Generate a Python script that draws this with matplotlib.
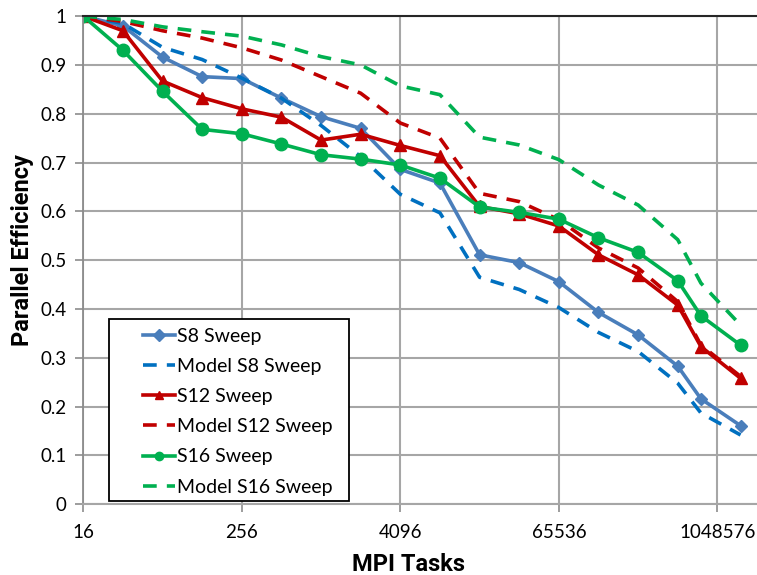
import matplotlib
matplotlib.use("Agg")
from matplotlib import pyplot as plt
from matplotlib.patches import Rectangle
from matplotlib.ticker import FixedLocator, NullLocator

plt.rcParams['font.family'] = ['Lato', 'DejaVu Sans']

# MPI task counts (x positions) and efficiencies
tasks = [16, 32, 64, 128, 256, 512, 1024, 2048, 4096, 8192, 16384, 32768,
         65536, 131072, 262144, 524288, 786432, 1572864]

s8 = [1.0, 0.980, 0.916, 0.876, 0.872, 0.832, 0.794, 0.770, 0.686, 0.658,
      0.511, 0.495, 0.456, 0.393, 0.347, 0.283, 0.216, 0.161]
model_s8 = [1.0, 0.985, 0.936, 0.911, 0.873, 0.832, 0.776, 0.712, 0.635, 0.597,
            0.465, 0.440, 0.403, 0.352, 0.313, 0.248, 0.187, 0.142]
s12 = [1.0, 0.970, 0.867, 0.833, 0.810, 0.793, 0.746, 0.758, 0.735, 0.714,
       0.610, 0.595, 0.570, 0.511, 0.470, 0.408, 0.323, 0.258]
model_s12 = [1.0, 0.989, 0.970, 0.955, 0.935, 0.910, 0.876, 0.842, 0.781, 0.750,
             0.637, 0.620, 0.583, 0.525, 0.484, 0.415, 0.326, 0.262]
s16 = [1.0, 0.930, 0.846, 0.768, 0.759, 0.738, 0.716, 0.707, 0.695, 0.668,
       0.609, 0.598, 0.584, 0.546, 0.516, 0.458, 0.386, 0.326]
model_s16 = [1.0, 0.993, 0.978, 0.968, 0.959, 0.941, 0.917, 0.900, 0.857, 0.839,
             0.752, 0.736, 0.706, 0.654, 0.613, 0.542, 0.453, 0.367]

xticks = [16, 256, 4096, 65536, 1048576]
yticks = [0, 0.1, 0.2, 0.3, 0.4, 0.5, 0.6, 0.7, 0.8, 0.9, 1]

fig = plt.figure(figsize=(7.57, 5.75), dpi=100)
ax = fig.add_axes([0.110, 0.123, 0.890, 0.849])

lw = 2.6
dash = (3.8, 2.8)
ax.plot(tasks, s8, color='#4a7ebb', lw=lw, marker='D', ms=6, label='S8 Sweep')
ax.plot(tasks, model_s8, color='#0070c0', lw=lw, ls=(0, dash), label='Model S8 Sweep')
ax.plot(tasks, s12, color='#c00000', lw=lw, marker='^', ms=9, label='S12 Sweep')
ax.plot(tasks, model_s12, color='#c00000', lw=lw, ls=(0, dash), label='Model S12 Sweep')
ax.plot(tasks, s16, color='#00b050', lw=lw, marker='o', ms=9, label='S16 Sweep')
ax.plot(tasks, model_s16, color='#00b050', lw=lw, ls=(0, dash), label='Model S16 Sweep')

ax.set_xscale('log', base=2)
ax.set_xlim(16, 2 ** 21)
ax.set_ylim(0, 1)
ax.xaxis.set_major_locator(FixedLocator(xticks))
ax.xaxis.set_minor_locator(NullLocator())
ax.set_xticklabels([str(t) for t in xticks])
ax.set_yticks(yticks)
ax.set_yticklabels(['0'] + ['%.1f' % v for v in yticks[1:-1]] + ['1'])

ax.grid(True, color='#a6a6a6', lw=1.5)
ax.set_axisbelow(True)
ax.spines['right'].set_visible(False)
ax.spines['top'].set_color('#262626')
ax.spines['top'].set_linewidth(1.5)
ax.spines['left'].set_color('#8c8c8c')
ax.spines['bottom'].set_color('#a6a6a6')
ax.spines['left'].set_linewidth(1.3)
ax.spines['bottom'].set_linewidth(1.5)
ax.tick_params(axis='both', labelsize=13.5, color='#8c8c8c', length=6, width=1.2)
ax.tick_params(axis='x', pad=8)
ax.tick_params(axis='y', pad=6)

ax.set_xlabel('MPI Tasks', fontsize=17, fontweight='bold', family='Roboto')
ax.set_ylabel('Parallel Efficiency', fontsize=17, fontweight='bold', family='Roboto')
ax.xaxis.set_label_coords(0.483, -0.099)
ax.yaxis.set_label_coords(-0.073, 0.521)

# legend box drawn separately so it keeps the wide Excel-like frame
box = Rectangle((0.0381, 0.0068), 0.3557, 0.3729, transform=ax.transAxes,
                facecolor='white', edgecolor='black', lw=1.3, zorder=4.5,
                clip_on=False)
ax.add_patch(box)
leg = ax.legend(loc='upper left', bbox_to_anchor=(0.0885, 0.362), fontsize=14,
                frameon=False, handlelength=1.65, handletextpad=0.12,
                labelspacing=0.68, borderpad=0, borderaxespad=0)
for h in leg.legend_handles:
    h.set_markersize(6)

fig.savefig('out.png', dpi=100)
